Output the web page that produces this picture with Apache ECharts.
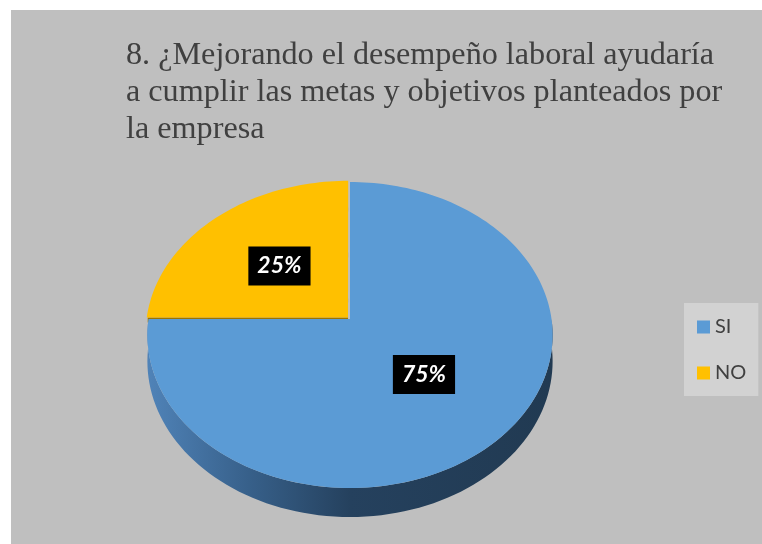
<!DOCTYPE html>
<html>
<head>
<meta charset="utf-8">
<script src="https://cdn.jsdelivr.net/npm/echarts@6/dist/echarts.min.js"></script>
<style>
html,body{margin:0;padding:0;background:#fff;}
#chart{width:762px;height:544px;}
</style>
</head>
<body>
<div id="chart"></div>
<script>
// ---- data ----
const categories = ['SI', 'NO'];
const values = [75, 25];
const percentLabels = ['75%', '25%'];
const titleText = '8. ¿Mejorando el desempeño laboral ayudaría\na cumplir las metas y objetivos planteados por\nla empresa';

// ---- style ----
const topColors = ['#5b9bd5', '#ffc000'];
const sideColors = [
  {type:'linear', x:0, y:0, x2:1, y2:0, global:false, colorStops:[
    {offset:0, color:'#5083b8'}, {offset:0.25, color:'#37608a'},
    {offset:0.5, color:'#25415e'}, {offset:1, color:'#213a52'}]},
  '#9c7400'
];
const radialColors = ['#2a4a6a', '#9c7400'];
const explode = [0, 0.014];

const CX = 350, CY = 319, A = 201.5, B = 151.3, K = 0.1046, DEPTH = 26;
function proj(u, v, down) {
  const w = 1 - K * v;
  return [CX + A * u / w, CY + B * v / w + (down || 0) / w];
}

function makeRender(idx) {
  return function (params, api) {
    const total = values.reduce((a, b) => a + b, 0);
    let start = -Math.PI / 2;
    for (let i = 0; i < idx; i++) start += values[i] / total * 2 * Math.PI;
    const val = api.value(0);
    const end = start + val / total * 2 * Math.PI;
    const mid = (start + end) / 2;
    const du = explode[idx] * Math.cos(mid), dv = explode[idx] * Math.sin(mid);
    const P = (r, t, down) => proj(du + r * Math.cos(t), dv + r * Math.sin(t), down);
    const children = [];

    // radial faces (only a thin strip shows where the slice is pulled out)
    [start, end].forEach(t => {
      const d = 5;
      children.push({
        type: 'polygon',
        shape: {points: [P(0, t, 0), P(0.995, t, 0), P(0.995, t, d), P(0, t, d)]},
        style: {fill: radialColors[idx]}
      });
    });

    // outer side (front visible part)
    for (let k = -1; k <= 1; k++) {
      const a = Math.max(start, 2 * Math.PI * k);
      const b = Math.min(end, 2 * Math.PI * k + Math.PI);
      if (a < b) {
        const n = Math.max(8, Math.ceil((b - a) / (Math.PI / 90)));
        const topPts = [], botPts = [];
        for (let i = 0; i <= n; i++) {
          const t = a + (b - a) * i / n;
          topPts.push(P(1, t, 0));
          botPts.push(P(1, t, DEPTH));
        }
        children.push({
          type: 'polygon',
          shape: {points: topPts.concat(botPts.reverse())},
          style: {fill: sideColors[idx]}
        });
      }
    }

    // top face
    const n = Math.max(8, Math.ceil((end - start) / (Math.PI / 120)));
    const pts = [P(0, start, 0)];
    for (let i = 0; i <= n; i++) pts.push(P(1, start + (end - start) * i / n, 0));
    children.push({type: 'polygon', shape: {points: pts}, style: {fill: topColors[idx]}});

    // label
    const lp = P(0.5, mid, 0);
    children.push({
      type: 'text',
      z2: 100,
      style: {
        x: lp[0], y: lp[1],
        text: percentLabels[idx],
        fill: '#ffffff',
        font: 'italic bold 23px Lato',
        align: 'center', verticalAlign: 'middle',
        backgroundColor: '#000000',
        padding: [9, 9, 7, 9]
      }
    });
    return {type: 'group', children: children};
  };
}

const chart = echarts.init(document.getElementById('chart'), null, {renderer: 'canvas'});
const series = categories.map((name, idx) => ({
  type: 'custom',
  name: name,
  coordinateSystem: 'none',
  z: idx === 0 ? 3 : 2,
  itemStyle: {color: topColors[idx]},
  renderItem: makeRender(idx),
  data: [[values[idx]]],
  silent: true,
  animation: false
}));

chart.setOption({
  backgroundColor: '#ffffff',
  animation: false,
  graphic: [{
    type: 'rect', z: -10, silent: true,
    shape: {x: 11, y: 10, width: 751, height: 534},
    style: {fill: '#bfbfbf'}
  }],
  title: {
    text: titleText,
    left: 121, top: 32,
    textStyle: {fontFamily: 'Liberation Serif', fontSize: 32.2, fontWeight: 'normal', color: '#404040', lineHeight: 37}
  },
  legend: {
    data: categories,
    orient: 'vertical',
    left: 684, top: 303,
    padding: [14, 12, 13, 13],
    backgroundColor: '#d2d2d2',
    itemWidth: 13, itemHeight: 13, itemGap: 26,
    icon: 'rect',
    textStyle: {fontFamily: 'Lato', fontSize: 20, color: '#404040'}
  },
  series: series
});
</script>
</body>
</html>
